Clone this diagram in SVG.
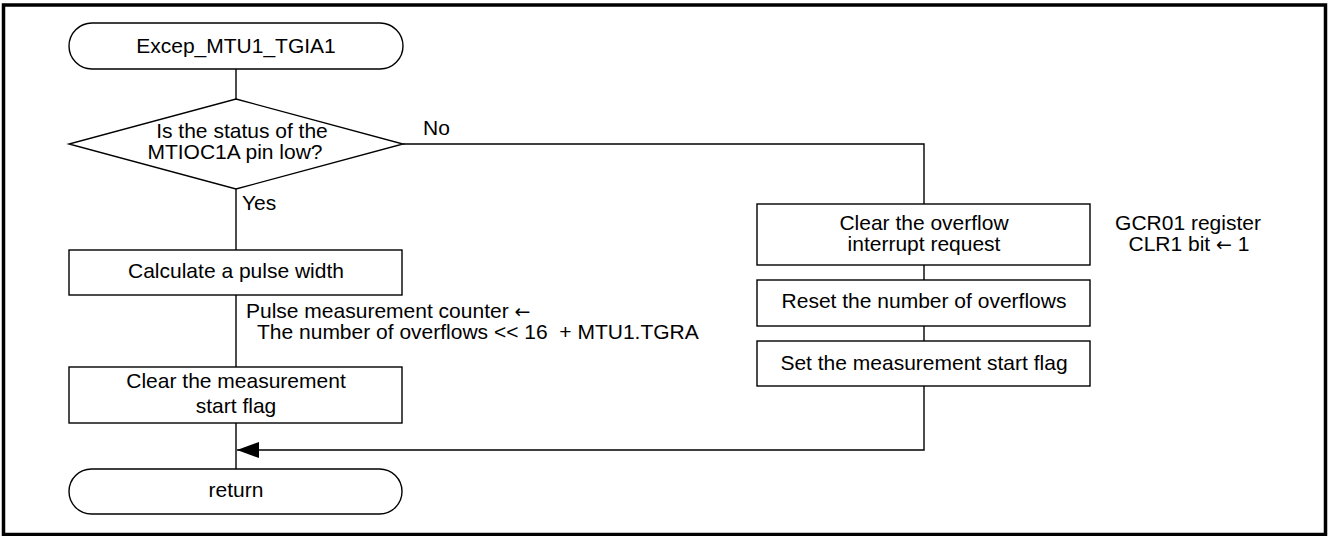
<svg xmlns="http://www.w3.org/2000/svg" width="1328" height="536" viewBox="0 0 1328 536">
<style>
.s{fill:#fff;stroke:#000;stroke-width:1.4}
.l{fill:none;stroke:#000;stroke-width:1.4}
text{font-family:"Liberation Sans",Arial,sans-serif;font-size:21px;fill:#000}
.m{text-anchor:middle}
.ar{font-family:"DejaVu Sans",sans-serif;font-size:19px}
</style>
<defs>
<marker id="ah" markerWidth="22" markerHeight="16" refX="22" refY="8" orient="auto" markerUnits="userSpaceOnUse">
<path d="M0,0 L22,8 L0,16 Z" fill="#000"/>
</marker>
</defs>
<rect x="3.5" y="5" width="1322" height="529.5" fill="#fff" stroke="#000" stroke-width="3.5"/>
<g id="connectors">
<path class="l" d="M236,69 V99"/>
<path class="l" d="M236,189 V250"/>
<path class="l" d="M236,295 V367"/>
<path class="l" d="M236,423 V469"/>
<path class="l" d="M403,144 H924 V204"/>
<path class="l" d="M924,265 V280"/>
<path class="l" d="M924,326 V341"/>
<path class="l" d="M924,386 V450 H237" marker-end="url(#ah)"/>
<text x="423" y="135">No</text>
<text x="242" y="210">Yes</text>
</g>
<g id="start">
<rect class="s" x="69" y="23" width="334" height="46" rx="23"/>
<text class="m" x="236" y="53">Excep_MTU1_TGIA1</text>
</g>
<g id="decision">
<polygon class="s" points="236,99 403,144 236,189 69,144"/>
<text class="m" x="242" y="138">Is the status of the</text>
<text class="m" x="235" y="159">MTIOC1A pin low?</text>
</g>
<g id="calc">
<rect class="s" x="69" y="250" width="333" height="45"/>
<text class="m" x="236" y="278">Calculate a pulse width</text>
</g>
<g id="calc-note">
<text x="246" y="318">Pulse measurement counter <tspan class="ar">←</tspan></text>
<text x="257" y="339" style="white-space:pre">The number of overflows &lt;&lt; 16  + MTU1.TGRA</text>
</g>
<g id="clear-flag">
<rect class="s" x="69" y="367" width="333" height="56"/>
<text class="m" x="236" y="388">Clear the measurement</text>
<text class="m" x="236" y="413">start flag</text>
</g>
<g id="end">
<rect class="s" x="69" y="469" width="333" height="45" rx="22.5"/>
<text class="m" x="236" y="497">return</text>
</g>
<g id="clear-ovf">
<rect class="s" x="757" y="204" width="333" height="61"/>
<text class="m" x="924" y="230">Clear the overflow</text>
<text class="m" x="924" y="251">interrupt request</text>
</g>
<g id="clear-ovf-note">
<text class="m" x="1188" y="230">GCR01 register</text>
<text class="m" x="1189" y="251">CLR1 bit <tspan class="ar">←</tspan> 1</text>
</g>
<g id="reset">
<rect class="s" x="757" y="280" width="333" height="46"/>
<text class="m" x="924" y="308">Reset the number of overflows</text>
</g>
<g id="set-flag">
<rect class="s" x="757" y="341" width="333" height="45"/>
<text class="m" x="924" y="370">Set the measurement start flag</text>
</g>
</svg>
